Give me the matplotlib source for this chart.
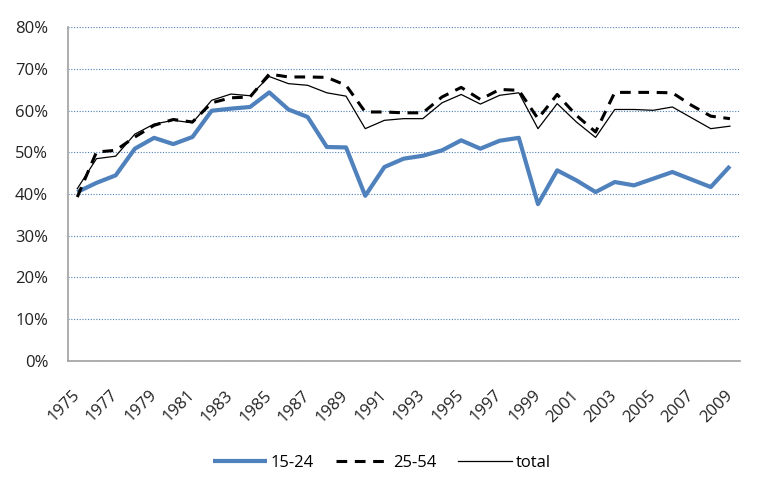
import matplotlib
matplotlib.use("Agg")
import matplotlib.pyplot as plt
from matplotlib.ticker import PercentFormatter

years = list(range(1975, 2010))
age_15_24 = [40.5, 42.7, 44.5, 50.9, 53.5, 52.0, 53.7, 60.0, 60.5, 60.9, 64.4, 60.3,
             58.5, 51.3, 51.2, 39.6, 46.5, 48.5, 49.2, 50.5, 52.9, 50.9, 52.8, 53.5,
             37.6, 45.7, 43.3, 40.5, 42.9, 42.1, 43.7, 45.3, 43.5, 41.7, 46.7]
age_25_54 = [39.3, 50.1, 50.5, 53.7, 56.5, 57.9, 57.3, 61.9, 63.1, 63.3, 68.8, 68.1,
             68.1, 68.0, 66.1, 59.7, 59.7, 59.5, 59.5, 63.3, 65.6, 62.7, 65.1, 64.9,
             58.1, 63.9, 58.9, 54.9, 64.4, 64.4, 64.4, 64.3, 61.3, 58.7, 58.1]
total = [41.3, 48.5, 49.1, 54.4, 56.8, 57.7, 57.1, 62.5, 64.0, 63.6, 68.2, 66.5,
         66.1, 64.3, 63.5, 55.7, 57.7, 58.1, 58.1, 61.9, 63.9, 61.6, 63.7, 64.3,
         55.7, 61.7, 57.3, 53.6, 60.3, 60.3, 60.1, 60.9, 58.3, 55.7, 56.3]
series_labels = ["15-24", "25-54", "total"]
yticks = [0, 10, 20, 30, 40, 50, 60, 70, 80]

plt.rcParams['font.family'] = ['Open Sans', 'DejaVu Sans']
fig = plt.figure(figsize=(7.64, 4.79), dpi=100)
ax = fig.add_axes([0.0886, 0.2466, 0.8794, 0.6963])

x = list(range(len(years)))
ax.plot(x, age_15_24, color='#4F81BD', lw=3.0, label=series_labels[0], solid_capstyle='butt')
ax.plot(x, age_25_54, color='black', lw=2.2, dashes=(3.5, 2.5), label=series_labels[1])
ax.plot(x, total, color='black', lw=0.9, label=series_labels[2])

ax.set_xlim(-0.5, len(years) - 0.5)
ax.set_ylim(0, 80)
ax.set_yticks(yticks)
ax.yaxis.set_major_formatter(PercentFormatter(decimals=0))
ax.set_xticks(x[::2])
ax.set_xticklabels([str(y) for y in years[::2]], rotation=45, ha='right',
                   va='center', rotation_mode='anchor')
ax.tick_params(axis='both', length=0, labelsize=12, colors='#222222')
ax.tick_params(axis='x', pad=23)
ax.tick_params(axis='y', pad=14)

ax.grid(axis='y', color='#4F81BD', linestyle=(0, (1, 1.5)), lw=0.8)
ax.set_axisbelow(True)
for s in ['top', 'right']:
    ax.spines[s].set_visible(False)
for s in ['left', 'bottom']:
    ax.spines[s].set_color('#A0A0A0')
    ax.spines[s].set_linewidth(1.2)

fig.legend(loc='center', bbox_to_anchor=(0.5, 0.034), ncol=3, frameon=False,
           fontsize=12, handlelength=3.25, handletextpad=0.2, columnspacing=1.3)

fig.savefig('out.png', dpi=100)
